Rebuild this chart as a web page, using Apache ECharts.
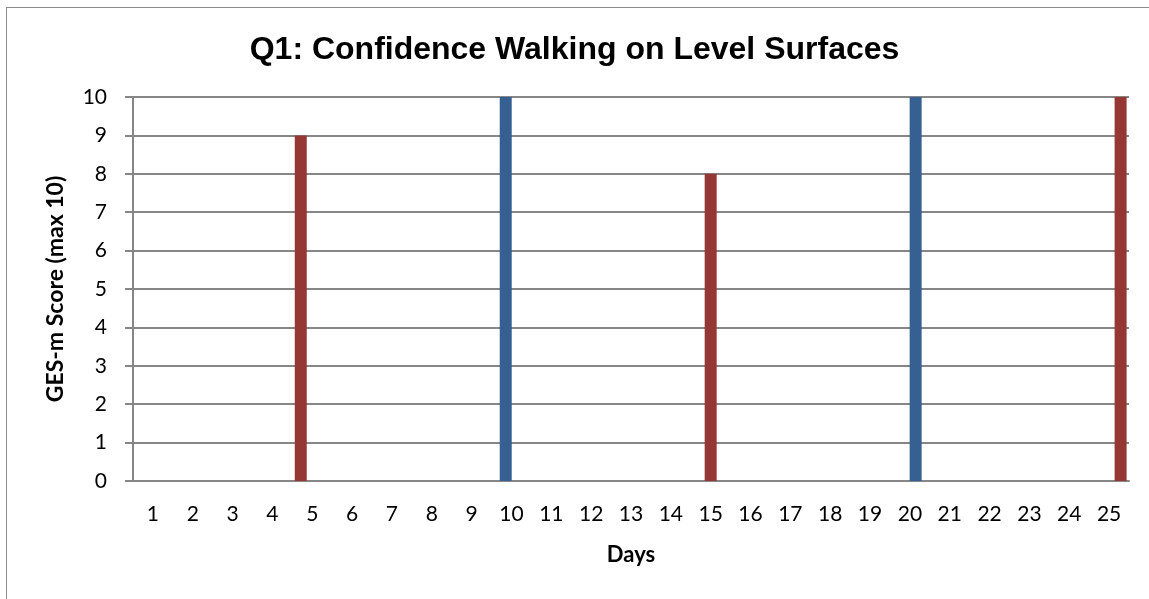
<!DOCTYPE html>
<html>
<head>
<meta charset="utf-8">
<script src="https://cdn.jsdelivr.net/npm/echarts@6/dist/echarts.min.js"></script>
<style>
  html, body { margin: 0; padding: 0; background: #fff; }
  #frame { position: absolute; left: 6px; top: 7px; width: 1150px; height: 600px; border: 1px solid #8c8c8c; box-sizing: border-box; }
  #chart { position: absolute; left: 0; top: 0; width: 1149px; height: 599px; }
</style>
</head>
<body>
<div id="frame"></div>
<div id="chart"></div>
<script>
// days on the x axis
var days = [];
for (var d = 1; d <= 25; d++) days.push(String(d));

// one score per session, null where nothing was recorded
var s5  = [null,null,null,null,9, null,null,null,null,null, null,null,null,null,null, null,null,null,null,null, null,null,null,null,null];
var s10 = [null,null,null,null,null, null,null,null,null,10, null,null,null,null,null, null,null,null,null,null, null,null,null,null,null];
var s15 = [null,null,null,null,null, null,null,null,null,null, null,null,null,null,8, null,null,null,null,null, null,null,null,null,null];
var s20 = [null,null,null,null,null, null,null,null,null,null, null,null,null,null,null, null,null,null,null,10, null,null,null,null,null];
var s25 = [null,null,null,null,null, null,null,null,null,null, null,null,null,null,null, null,null,null,null,null, null,null,null,null,10];

var red = '#953735';
var blue = '#376092';
var axisGray = '#868686';

var chartDom = document.getElementById('chart');
var myChart = echarts.init(chartDom);

function bar(name, data, color) {
  return {
    name: name,
    type: 'bar',
    data: data,
    barWidth: 12,
    barGap: '-52%',
    itemStyle: { color: color }
  };
}

var option = {
  animation: false,
  title: {
    text: 'Q1: Confidence Walking on Level Surfaces',
    left: 'center',
    top: 29,
    textStyle: { fontFamily: 'Liberation Sans', fontWeight: 'bold', fontSize: 32, color: '#000' }
  },
  grid: { left: 133, right: 20, top: 97, bottom: 118 },
  xAxis: {
    type: 'category',
    data: days,
    name: 'Days',
    nameLocation: 'middle',
    nameGap: 63,
    nameTextStyle: { fontFamily: 'Lato', fontWeight: 'bold', fontSize: 22, color: '#000' },
    axisLine: { lineStyle: { color: axisGray, width: 2 } },
    axisTick: { length: 7, lineStyle: { color: axisGray, width: 2 } },
    axisLabel: { margin: 23, fontFamily: 'Lato', fontSize: 21, color: '#000', interval: 0 }
  },
  yAxis: {
    type: 'value',
    min: 0,
    max: 10,
    interval: 1,
    name: 'GES-m Score (max 10)',
    nameLocation: 'middle',
    nameGap: 66,
    nameTextStyle: { fontFamily: 'Lato', fontWeight: 'bold', fontSize: 23, color: '#000' },
    axisLine: { show: true, lineStyle: { color: axisGray, width: 2 } },
    axisTick: { show: true, length: 8, lineStyle: { color: axisGray, width: 2 } },
    axisLabel: { margin: 26, fontFamily: 'Lato', fontSize: 21, color: '#000' },
    splitLine: { lineStyle: { color: axisGray, width: 2 } }
  },
  series: [
    bar('Day 5', s5, red),
    bar('Day 10', s10, blue),
    bar('Day 15', s15, red),
    bar('Day 20', s20, blue),
    bar('Day 25', s25, red)
  ]
};

option && myChart.setOption(option);
</script>
</body>
</html>
